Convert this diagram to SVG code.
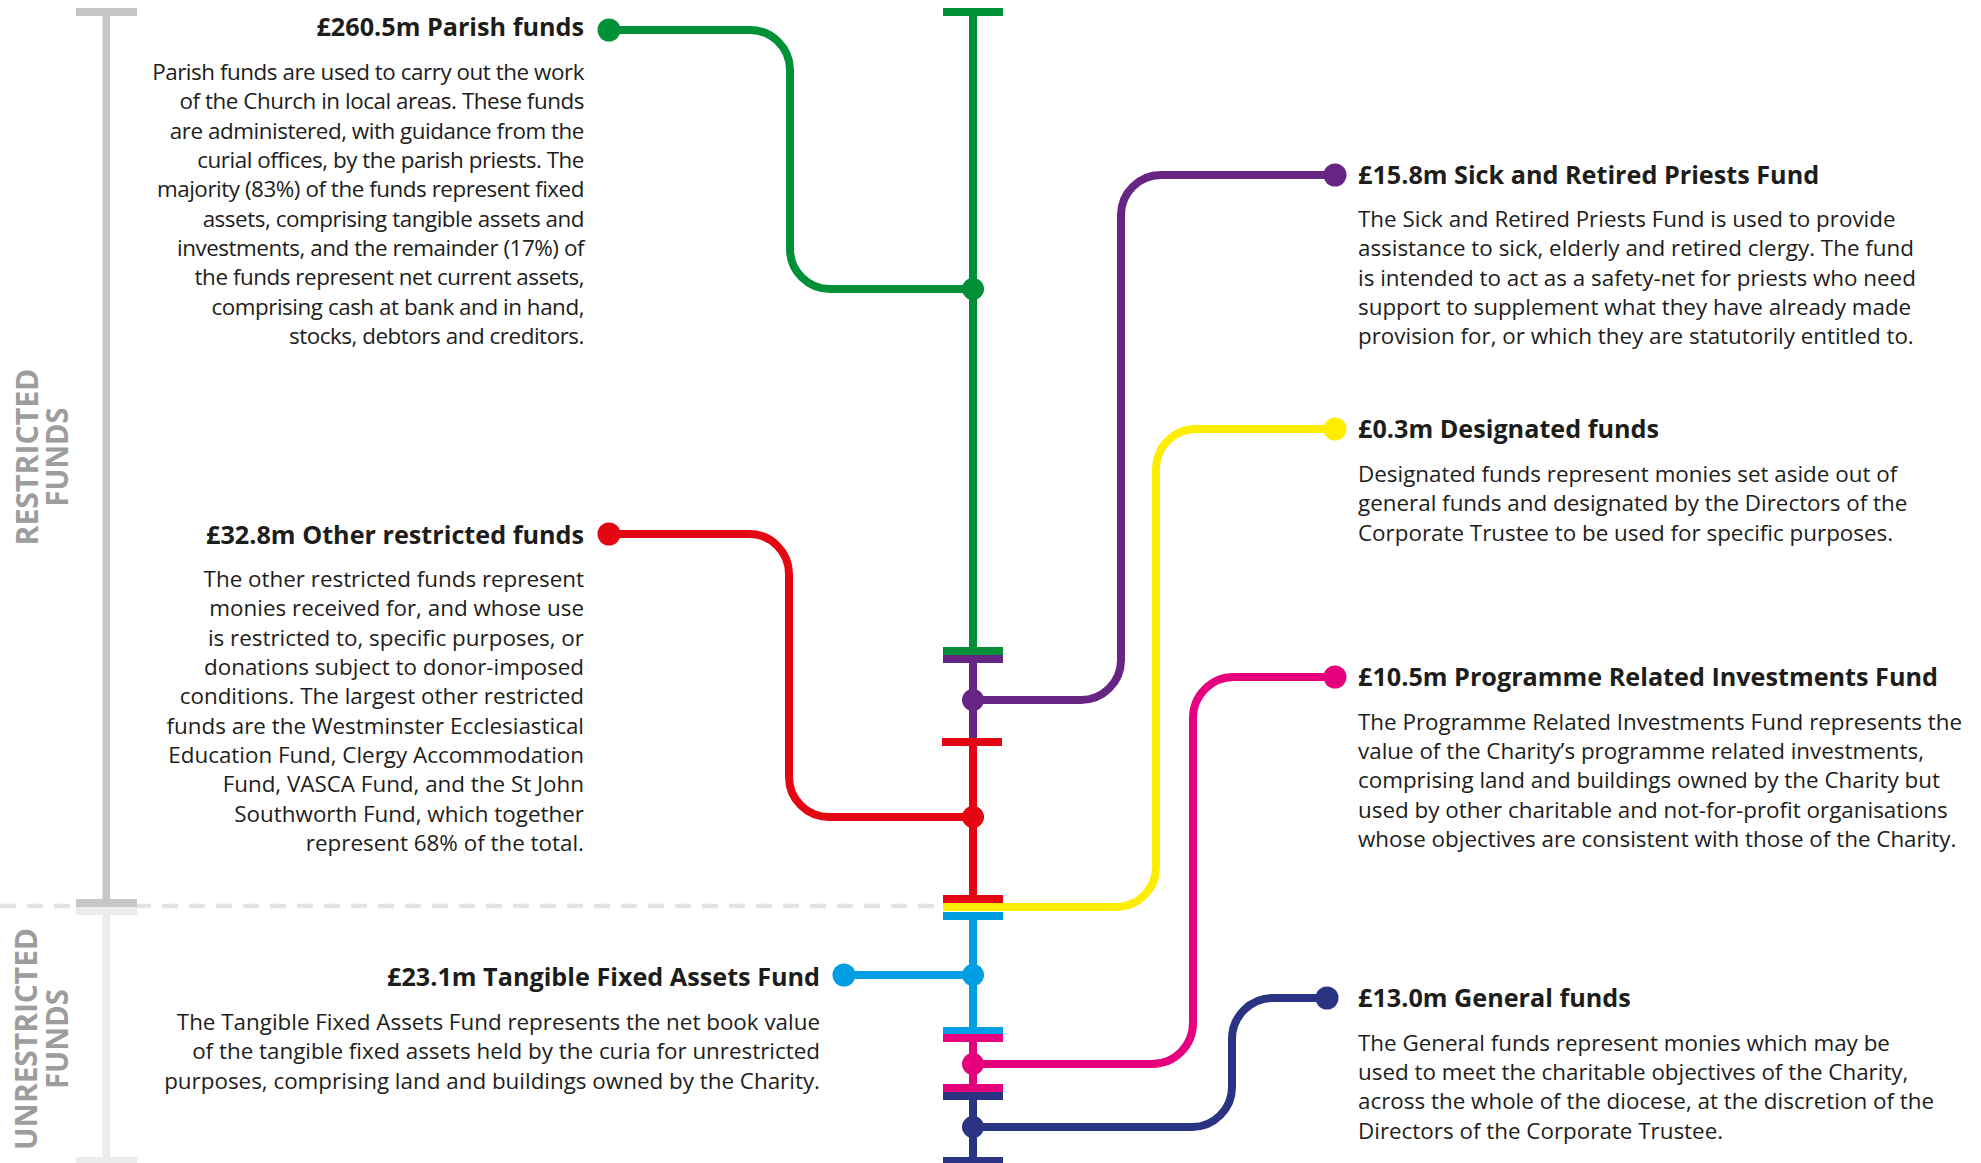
<svg xmlns="http://www.w3.org/2000/svg" width="1981" height="1163" viewBox="0 0 1981 1163">
<style>
.body{font-family:"Open Sans","Noto Sans",sans-serif;font-size:22.4px;fill:#1d1d1b}
.tight{letter-spacing:-0.45px}
.title{font-family:"Open Sans","Noto Sans",sans-serif;font-size:25.2px;font-weight:bold;fill:#1d1d1b}
.l{text-anchor:end}
.band{font-family:"Open Sans","Noto Sans",sans-serif;font-size:31px;font-weight:bold;fill:#9d9d9d;text-anchor:middle}
.ln{fill:none;stroke-width:8}
</style>
<rect width="1981" height="1163" fill="#ffffff"/>
<g id="bands">
<line x1="0" y1="906" x2="943" y2="906" stroke="#e3e3e3" stroke-width="4.5" stroke-dasharray="16 11"/>
<rect x="76" y="8" width="61" height="8" fill="#c6c6c6"/>
<rect x="102.5" y="12" width="7.5" height="890" fill="#c6c6c6"/>
<rect x="76" y="899" width="61" height="8" fill="#c6c6c6"/>
<rect x="76" y="907" width="61" height="8" fill="#ececec"/>
<rect x="102.5" y="912" width="7.5" height="248" fill="#ececec"/>
<rect x="76" y="1157" width="61" height="8" fill="#ececec"/>
<text class="band" transform="translate(38,457) rotate(-90)" textLength="177" lengthAdjust="spacingAndGlyphs">RESTRICTED</text>
<text class="band" transform="translate(68,457) rotate(-90)" textLength="99" lengthAdjust="spacingAndGlyphs">FUNDS</text>
<text class="band" transform="translate(37,1039) rotate(-90)" textLength="222" lengthAdjust="spacingAndGlyphs">UNRESTRICTED</text>
<text class="band" transform="translate(68,1039) rotate(-90)" textLength="100" lengthAdjust="spacingAndGlyphs">FUNDS</text>
</g>
<g id="connectors">
<path class="ln" stroke="#009138" d="M609,30 H750 A40,40 0 0 1 790,70 V249 A40,40 0 0 0 830,289 H973"/>
<path class="ln" stroke="#e30613" d="M609,534 H749 A40,40 0 0 1 789,574 V777 A40,40 0 0 0 829,817 H973"/>
<path class="ln" stroke="#009fe3" d="M844,975 H973"/>
<path class="ln" stroke="#662483" d="M973,700 H1081 A40,40 0 0 0 1121,660 V215 A40,40 0 0 1 1161,175 H1335"/>
<path class="ln" stroke="#ffed00" d="M943,907 H1116 A40,40 0 0 0 1156,867 V469 A40,40 0 0 1 1196,429 H1335"/>
<path class="ln" stroke="#e6007e" d="M973,1064 H1152 A41,41 0 0 0 1193,1023 V718 A41,41 0 0 1 1234,677 H1335"/>
<path class="ln" stroke="#2b3483" d="M973,1127 H1192 A40,40 0 0 0 1232,1087 V1039 A41,41 0 0 1 1273,998 H1327"/>
</g>
<g id="spine">
<line x1="973" y1="12" x2="973" y2="651" stroke="#009138" stroke-width="8"/>
<line x1="973" y1="659" x2="973" y2="740" stroke="#662483" stroke-width="8"/>
<line x1="973" y1="742" x2="973" y2="899" stroke="#e30613" stroke-width="8"/>
<line x1="973" y1="916" x2="973" y2="1030" stroke="#009fe3" stroke-width="8"/>
<line x1="973" y1="1038" x2="973" y2="1088" stroke="#e6007e" stroke-width="8"/>
<line x1="973" y1="1096" x2="973" y2="1163" stroke="#2b3483" stroke-width="8"/>
<rect x="943" y="8" width="60" height="8" fill="#009138"/>
<rect x="943" y="647" width="60" height="8" fill="#009138"/>
<rect x="943" y="655" width="60" height="8" fill="#662483"/>
<rect x="942" y="738" width="60" height="8" fill="#e30613"/>
<rect x="943" y="895" width="60" height="8" fill="#e30613"/>
<rect x="943" y="912" width="60" height="8" fill="#009fe3"/>
<rect x="943" y="1027" width="60" height="7.5" fill="#009fe3"/>
<rect x="943" y="1034" width="60" height="8" fill="#e6007e"/>
<rect x="943" y="1084" width="60" height="8" fill="#e6007e"/>
<rect x="943" y="1092" width="60" height="8" fill="#2b3483"/>
<rect x="943" y="1157" width="60" height="8" fill="#2b3483"/>
</g>
<g id="parish">
<circle cx="609" cy="30" r="11.5" fill="#009138"/>
<circle cx="973" cy="289" r="11" fill="#009138"/>
<text class="title l" x="584" y="36">£260.5m Parish funds</text>
<text class="body tight l"><tspan x="584" y="80">Parish funds are used to carry out the work</tspan><tspan x="584" y="109.3">of the Church in local areas. These funds</tspan><tspan x="584" y="138.7">are administered, with guidance from the</tspan><tspan x="584" y="168">curial offices, by the parish priests. The</tspan><tspan x="584" y="197.4">majority (83%) of the funds represent fixed</tspan><tspan x="584" y="226.7">assets, comprising tangible assets and</tspan><tspan x="584" y="256">investments, and the remainder (17%) of</tspan><tspan x="584" y="285.4">the funds represent net current assets,</tspan><tspan x="584" y="314.7">comprising cash at bank and in hand,</tspan><tspan x="584" y="344">stocks, debtors and creditors.</tspan></text>
</g>
<g id="other-restricted">
<circle cx="609" cy="534" r="11.5" fill="#e30613"/>
<circle cx="973" cy="817" r="11" fill="#e30613"/>
<text class="title l" x="584" y="544">£32.8m Other restricted funds</text>
<text class="body l"><tspan x="584" y="587">The other restricted funds represent</tspan><tspan x="584" y="616.3">monies received for, and whose use</tspan><tspan x="584" y="645.7">is restricted to, specific purposes, or</tspan><tspan x="584" y="675">donations subject to donor-imposed</tspan><tspan x="584" y="704.4">conditions. The largest other restricted</tspan><tspan x="584" y="733.7">funds are the Westminster Ecclesiastical</tspan><tspan x="584" y="763">Education Fund, Clergy Accommodation</tspan><tspan x="584" y="792.4">Fund, VASCA Fund, and the St John</tspan><tspan x="584" y="821.7">Southworth Fund, which together</tspan><tspan x="584" y="851">represent 68% of the total.</tspan></text>
</g>
<g id="tangible">
<circle cx="844" cy="975" r="11.5" fill="#009fe3"/>
<circle cx="973" cy="975" r="11" fill="#009fe3"/>
<text class="title l" x="820" y="986">£23.1m Tangible Fixed Assets Fund</text>
<text class="body l"><tspan x="820" y="1030">The Tangible Fixed Assets Fund represents the net book value</tspan><tspan x="820" y="1059.3">of the tangible fixed assets held by the curia for unrestricted</tspan><tspan x="820" y="1088.7">purposes, comprising land and buildings owned by the Charity.</tspan></text>
</g>
<g id="sick">
<circle cx="1335" cy="175" r="11.5" fill="#662483"/>
<circle cx="973" cy="700" r="11" fill="#662483"/>
<text class="title" x="1358" y="184">£15.8m Sick and Retired Priests Fund</text>
<text class="body"><tspan x="1358" y="227">The Sick and Retired Priests Fund is used to provide</tspan><tspan x="1358" y="256.3">assistance to sick, elderly and retired clergy. The fund</tspan><tspan x="1358" y="285.7">is intended to act as a safety-net for priests who need</tspan><tspan x="1358" y="315">support to supplement what they have already made</tspan><tspan x="1358" y="344.4">provision for, or which they are statutorily entitled to.</tspan></text>
</g>
<g id="designated">
<circle cx="1335" cy="429" r="11.5" fill="#ffed00"/>
<text class="title" x="1358" y="438">£0.3m Designated funds</text>
<text class="body"><tspan x="1358" y="482">Designated funds represent monies set aside out of</tspan><tspan x="1358" y="511.3">general funds and designated by the Directors of the</tspan><tspan x="1358" y="540.7">Corporate Trustee to be used for specific purposes.</tspan></text>
</g>
<g id="pri">
<circle cx="1335" cy="677" r="11.5" fill="#e6007e"/>
<circle cx="973" cy="1064" r="11" fill="#e6007e"/>
<text class="title" x="1358" y="686">£10.5m Programme Related Investments Fund</text>
<text class="body"><tspan x="1358" y="729.5">The Programme Related Investments Fund represents the</tspan><tspan x="1358" y="758.8">value of the Charity’s programme related investments,</tspan><tspan x="1358" y="788.2">comprising land and buildings owned by the Charity but</tspan><tspan x="1358" y="817.5">used by other charitable and not-for-profit organisations</tspan><tspan x="1358" y="846.9">whose objectives are consistent with those of the Charity.</tspan></text>
</g>
<g id="general">
<circle cx="1327" cy="998" r="11.5" fill="#2b3483"/>
<circle cx="973" cy="1127" r="11" fill="#2b3483"/>
<text class="title" x="1358" y="1007">£13.0m General funds</text>
<text class="body"><tspan x="1358" y="1050.5">The General funds represent monies which may be</tspan><tspan x="1358" y="1079.8">used to meet the charitable objectives of the Charity,</tspan><tspan x="1358" y="1109.2">across the whole of the diocese, at the discretion of the</tspan><tspan x="1358" y="1138.5">Directors of the Corporate Trustee.</tspan></text>
</g>
</svg>
